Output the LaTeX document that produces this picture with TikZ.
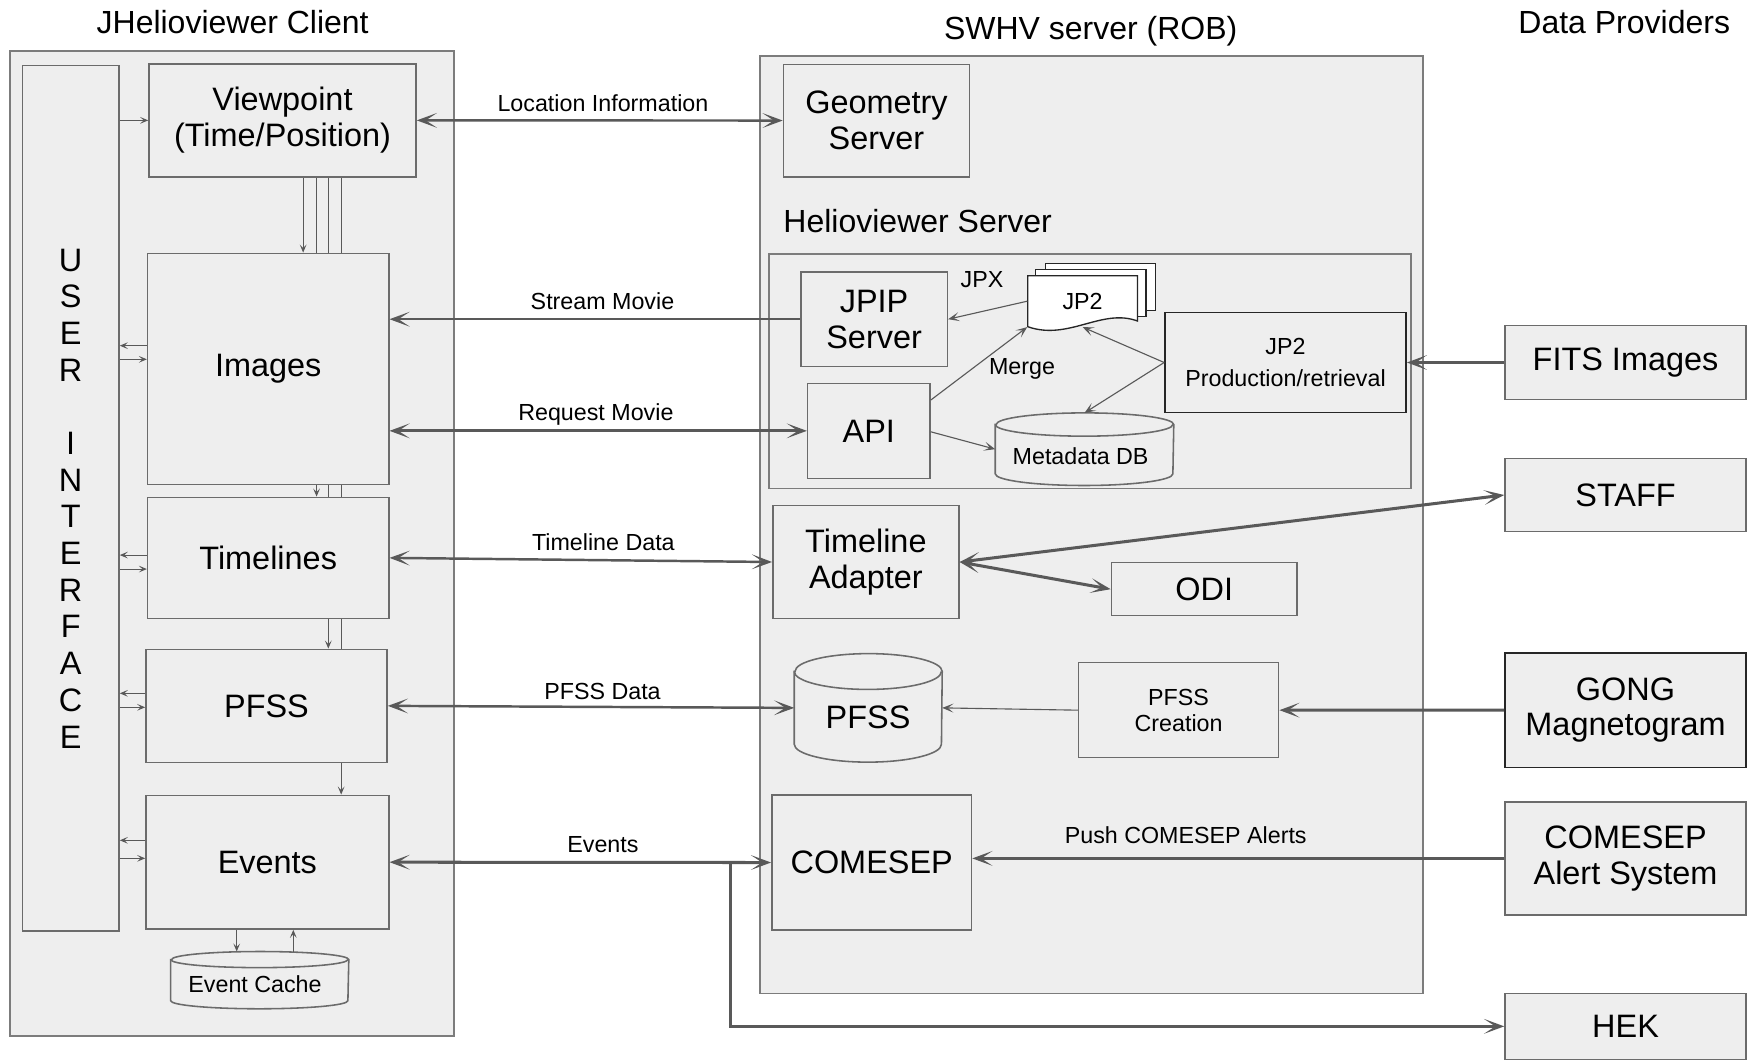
\documentclass[tikz,border=0pt]{standalone}
\usepackage{fontspec}
\setmainfont{Liberation Sans}
\usetikzlibrary{arrows.meta,fit}
\pgfdeclarelayer{bglayer}
\pgfdeclarelayer{midlayer}
\pgfsetlayers{bglayer,midlayer,main}
\definecolor{boxfill}{HTML}{EEEEEE}
\definecolor{boxline}{HTML}{6B6B6B}
\definecolor{contline}{HTML}{7C7C7C}
\definecolor{arrowcol}{HTML}{595959}
\definecolor{darkline}{HTML}{262626}
\newcommand\fbig{\fontsize{14.5pt}{16pt}\selectfont}
\newcommand\fsmall{\fontsize{10.4pt}{12pt}\selectfont}
\newcommand\ftitle{\fontsize{14.3pt}{16pt}\selectfont}
\newcommand\cylshape[3]{%
  \path[cylpath] ([yshift=-#3]#1.north west) -- ([yshift=#3]#1.south west)
    arc[start angle=180,end angle=360,x radius=#2,y radius=#3]
    -- ([yshift=-#3]#1.north east)
    arc[start angle=0,end angle=180,x radius=#2,y radius=#3] -- cycle;
  \draw[cylpath, fill=none] ([yshift=-#3]#1.north west)
    arc[start angle=180,end angle=360,x radius=#2,y radius=#3];
}
\tikzset{
  BT/.tip={Stealth[length=9pt,width=6.6pt,inset=5pt]},
  MT/.tip={Stealth[length=5pt,width=4pt,inset=2.5pt]},
  ST/.tip={Stealth[length=3.6pt,width=3pt,inset=1.6pt]},
  box/.style={draw=boxline, fill=boxfill, line width=0.7pt, inner sep=0pt, align=center, font=\fbig},
  sz/.style 2 args={minimum width=#1pt, minimum height=#2pt},
  container/.style={draw=contline, fill=boxfill, line width=0.75pt, inner sep=0pt},
  anchorbox/.style={inner sep=0pt, draw=none, fill=none, align=center},
  cylpath/.style={draw=boxline, fill=boxfill, line width=0.7pt},
  docstyle/.style={draw=darkline, fill=white, line width=0.6pt},
  thickarr/.style={draw=arrowcol, line width=1.35pt},
  medarr/.style={draw=arrowcol, line width=1.1pt},
  thinarr/.style={draw=arrowcol, line width=0.5pt, -{MT}},
  tinyarr/.style={draw=arrowcol, line width=0.45pt, -{ST}},
  lbl/.style={font=\fsmall, inner sep=0pt, anchor=base},
  ttl/.style={font=\ftitle, inner sep=0pt, anchor=base},
}
\begin{document}
\begin{tikzpicture}[x=0.5pt,y=-0.5pt]
\useasboundingbox (0,0) rectangle (1568,949.4);
\begin{pgfonlayer}{bglayer}
\fill[white] (0,0) rectangle (1568,949.4);
\node[container, fit={(8.9,45.3) (405.9,925.9)}] (client) {};
\node[container, fit={(679.2,50) (1271.8,888)}] (server) {};
\node[container, fit={(687.7,227) (1261.4,436.6)}] (helio) {};
\end{pgfonlayer}

% titles
\node[ttl] (tclient) at (208,30) {JHelioviewer Client};
\node[ttl] (tserver) at (975,35) {SWHV server (ROB)};
\node[ttl] (tprov) at (1452,30) {Data Providers};
\node[ttl, anchor=base west] (thelio) at (700,208) {Helioviewer Server};

% client
\node[box, font=\fontsize{14.5pt}{16.4pt}\selectfont, sz={43.2}{386.8}] (ui) at (63.2,445.5)
  {U\\S\\E\\R\\[16.4pt]I\\N\\T\\E\\R\\F\\A\\C\\E};
\node[box, sz={119.35}{50.4}] (vp) at (252.55,107.6) {Viewpoint\\(Time/Position)};
\node[box, sz={107.75}{103.25}] (images) at (239.75,329.75) {Images};
\node[box, sz={107.75}{54.1}] (timelines) at (239.75,498.7) {Timelines};
\node[box, sz={107.75}{50.5}] (pfssc) at (238.25,631) {PFSS};
\node[box, sz={108.5}{59.75}] (events) at (239,770.75) {Events};
\node[anchorbox, sz={79.2}{25.2}] (cache) at (232.2,876.2) {};
\cylshape{cache}{39.6pt}{3.6pt}
\node[font=\fsmall, inner sep=0pt] (cachet) at (228,880) {Event Cache};

% hidden lines from viewpoint
\coordinate (vxa) at (271,0);
\coordinate (vxb) at (283,0);
\coordinate (vxc) at (293.5,0);
\coordinate (vxd) at (305,0);
\begin{pgfonlayer}{midlayer}
\draw[tinyarr] (vp.south -| vxa) -- (images.north -| vxa);
\draw[tinyarr] (vp.south -| vxb) -- (timelines.north -| vxb);
\draw[tinyarr] (vp.south -| vxc) -- (pfssc.north -| vxc);
\draw[tinyarr] (vp.south -| vxd) -- (events.north -| vxd);
\end{pgfonlayer}

% UI arrows
\coordinate (ya) at (0,309);   \coordinate (yb) at (0,321.2);
\coordinate (yc) at (0,496.2); \coordinate (yd) at (0,508.7);
\coordinate (ye) at (0,619.8); \coordinate (yf) at (0,632.3);
\coordinate (yg) at (0,751.2); \coordinate (yh) at (0,767.3);
\draw[tinyarr] (ui.east |- vp.west) -- (vp.west);
\draw[tinyarr] (images.west |- ya) -- (ui.east |- ya);
\draw[tinyarr] (ui.east |- yb) -- (images.west |- yb);
\draw[tinyarr] (timelines.west |- yc) -- (ui.east |- yc);
\draw[tinyarr] (ui.east |- yd) -- (timelines.west |- yd);
\draw[tinyarr] (pfssc.west |- ye) -- (ui.east |- ye);
\draw[tinyarr] (ui.east |- yf) -- (pfssc.west |- yf);
\draw[tinyarr] (events.west |- yg) -- (ui.east |- yg);
\draw[tinyarr] (ui.east |- yh) -- (events.west |- yh);

% event cache arrows
\coordinate (cxa) at (211.6,0);
\coordinate (cxb) at (262.2,0);
\draw[tinyarr] (events.south -| cxa) -- (cache.north -| cxa);
\draw[tinyarr] (cache.north -| cxb) -- (events.south -| cxb);

% server
\node[box, sz={83.15}{50.25}] (geo) at (783.55,107.75) {Geometry\\Server};
\node[box, sz={65.5}{42.45}] (jpip) at (781.4,285.35) {JPIP\\Server};
\node[box, sz={54.7}{42.45}] (api) at (776.7,385.15) {API};
\filldraw[docstyle] (934.5,235.4) rectangle (1033,277.7);
\filldraw[docstyle] (925.9,240.8) rectangle (1024.5,283.1);
\filldraw[docstyle] (918.7,246.5) -- (1016.9,246.5) -- (1016.9,287)
   .. controls (985,275) and (955,305) .. (918.7,292) -- cycle;
\node[anchorbox, font=\fsmall, sz={49.1}{22.75}] (jp2) at (967.8,269.25) {JP2};
\node[box, draw=darkline, font=\fontsize{10.4pt}{14pt}\selectfont, sz={107.8}{44.85}] (jp2prod) at (1149.2,324.05) {JP2\\Production/retrieval};
\node[anchorbox, sz={79.4}{32.05}] (meta) at (969.5,401.55) {};
\cylshape{meta}{39.7pt}{5.2pt}
\node[font=\fsmall, inner sep=0pt] (metat) at (966,408) {Metadata DB};
\node[box, sz={83.15}{50.4}] (ta) at (774.05,502.4) {Timeline\\Adapter};
\node[box, sz={82.95}{23.7}] (odi) at (1076.55,526.7) {ODI};
\node[anchorbox, sz={65.75}{48.1}] (pfsscyl) at (776.15,632.8) {};
\cylshape{pfsscyl}{32.9pt}{8pt}
\node[font=\fbig, inner sep=0pt] (pfsscylt) at (776,641) {PFSS};
\node[box, font=\fontsize{10.4pt}{11.6pt}\selectfont, sz={89.4}{42.45}] (creation) at (1053.6,634.85) {PFSS\\Creation};
\node[box, sz={89.25}{60.35}] (comesep) at (779.25,771.05) {COMESEP};

% providers
\node[box, sz={107.75}{32.95}] (fits) at (1453.15,324.05) {FITS Images};
\node[box, sz={107.75}{32.8}] (staff) at (1453.15,442.5) {STAFF};
\node[box, draw=darkline, sz={107.75}{51.25}] (gong) at (1453.15,634.75) {GONG\\Magnetogram};
\node[box, sz={107.75}{50.65}] (alert) at (1453.15,767.35) {COMESEP\\Alert System};
\node[box, sz={107.75}{29.5}] (hek) at (1453.15,917.5) {HEK};

% connectors
\draw[medarr, {BT}-{BT}] (vp.east) -- (geo.west);
\draw[medarr, -{BT}] (jpip.west) -- (images.east |- jpip.west);
\draw[thickarr, {BT}-{BT}] (images.east |- api.west) -- (api.west);
\draw[medarr, {BT}-{BT}] (timelines.east) -- (ta.west);
\draw[medarr, {BT}-{BT}] (pfssc.east) -- (pfsscyl.west);
\draw[thickarr, {BT}-{BT}] (events.east) -- (comesep.west);
\coordinate (jx) at (652.8,0);
\draw[thickarr, -{BT}] (events.east -| jx) |- (hek.west);
\draw[thinarr] (jp2.west) -- (jpip.east);
\coordinate (apiup) at (0,357.6);
\coordinate (apidn) at (0,386);
\draw[thinarr] (api.east |- apiup) -- (jp2.south west);
\draw[thinarr] (api.east |- apidn) -- (meta.west);
\draw[thinarr] (jp2prod.west) -- (jp2.south);
\draw[thinarr] (jp2prod.west) -- (meta.north);
\draw[thickarr, -{BT}] (fits.west) -- (jp2prod.east);
\draw[thickarr, {BT}-{BT}] (ta.east) -- (staff.west);
\draw[thickarr, {BT}-{BT}] (ta.east) -- (odi.west);
\draw[thinarr] (creation.west) -- (pfsscyl.east);
\draw[thickarr, -{BT}] (gong.west) -- (creation.east);
\draw[thickarr, -{BT}] (alert.west) -- (comesep.east |- alert.west);

% labels
\node[lbl] (lloc) at (539,99.8) {Location Information};
\node[lbl] (lstream) at (538.6,277.1) {Stream Movie};
\node[lbl] (lreq) at (532.7,375.5) {Request Movie};
\node[lbl] (ltl) at (539.4,492.3) {Timeline Data};
\node[lbl] (lpfss) at (538.6,625.2) {PFSS Data};
\node[lbl] (lev) at (539,762) {Events};
\node[lbl] (lpush) at (1060,753.9) {Push COMESEP Alerts};
\node[lbl] (ljpx) at (877.9,256.9) {JPX};
\node[lbl] (lmerge) at (913.6,335.2) {Merge};
\end{tikzpicture}
\end{document}
